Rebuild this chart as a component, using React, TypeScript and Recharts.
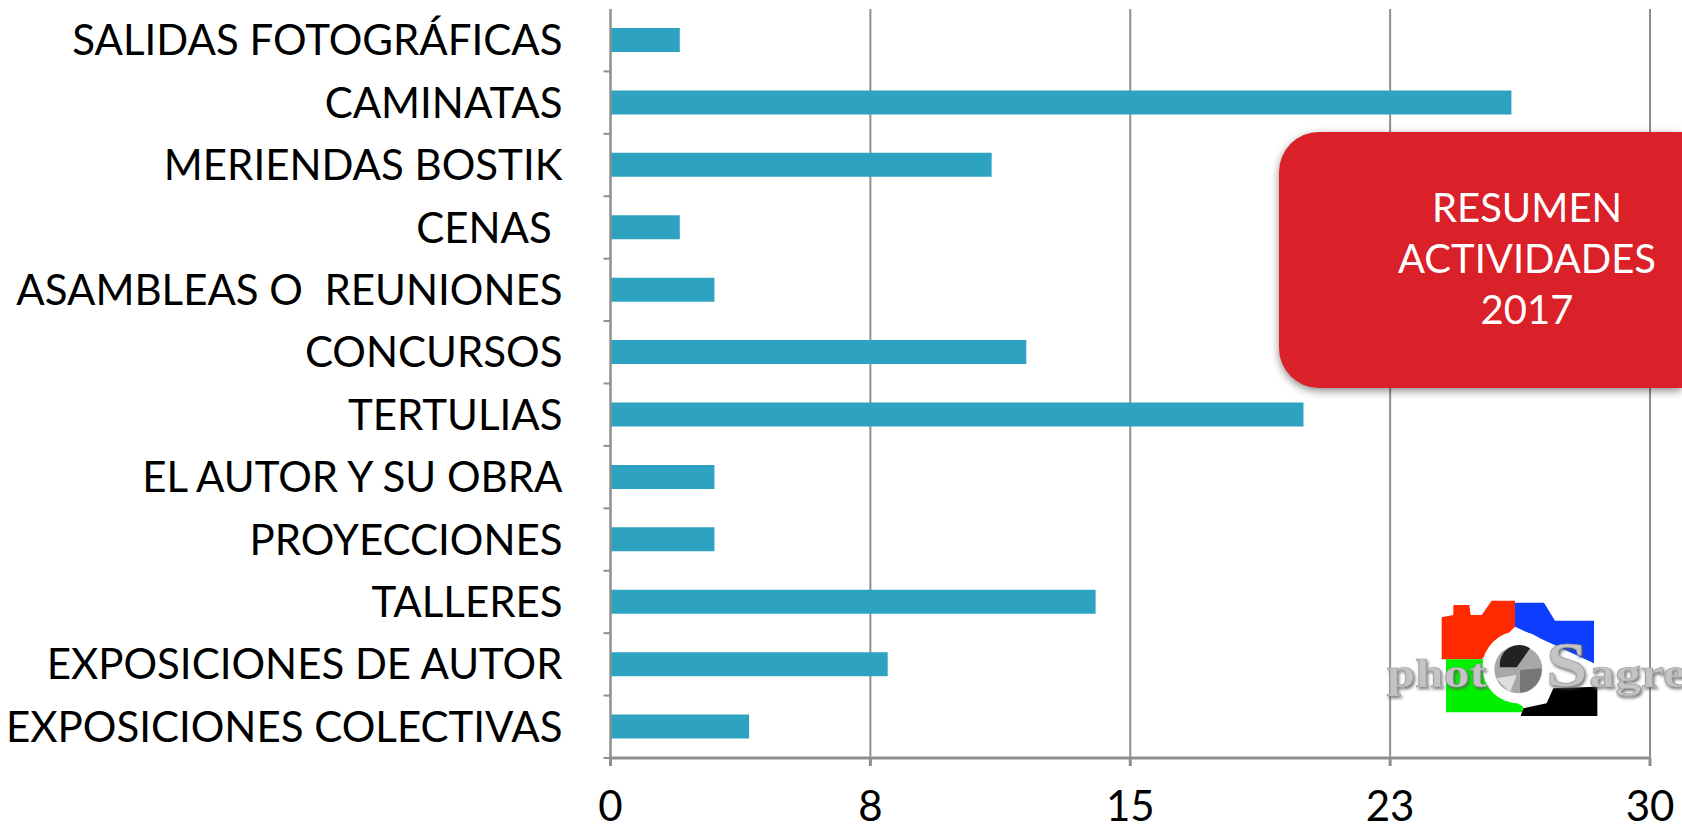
import { BarChart, Bar, XAxis, YAxis, CartesianGrid } from "recharts";

const CATEGORIES = [
  "SALIDAS FOTOGRÁFICAS",
  "CAMINATAS",
  "MERIENDAS BOSTIK",
  "CENAS ",
  "ASAMBLEAS O  REUNIONES",
  "CONCURSOS",
  "TERTULIAS",
  "EL AUTOR Y SU OBRA",
  "PROYECCIONES",
  "TALLERES",
  "EXPOSICIONES DE AUTOR",
  "EXPOSICIONES COLECTIVAS",
];
const VALUES = [2, 26, 11, 2, 3, 12, 20, 3, 3, 14, 8, 4];
const X_TICKS = [0, 7.5, 15, 22.5, 30];
const TITLE_LINES = ["RESUMEN", "ACTIVIDADES", "2017"];

const DATA = CATEGORIES.map((name, i) => ({ name, value: VALUES[i] }));

const FONT = "Lato, sans-serif";
const AXIS_GREY = "#8f8f8f";
const BAND = 62.4;

function CategoryTick({ x, y, payload }: any) {
  return (
    <g>
      <line x1={x + 41} x2={x + 48} y1={y + BAND / 2} y2={y + BAND / 2} stroke={AXIS_GREY} strokeWidth={2} />
      <text
        x={x}
        y={y}
        dy="0.36em"
        textAnchor="end"
        fontFamily={FONT}
        fontSize={42}
        fill="#000"
        style={{ whiteSpace: "pre" }}
      >
        {payload.value}
      </text>
    </g>
  );
}

function TitleBox() {
  return (
    <div
      style={{
        position: "absolute",
        left: 1279,
        top: 132,
        width: 403,
        height: 256,
        background: "#da2029",
        borderRadius: "40px 0 0 40px",
        boxShadow: "0 3px 8px rgba(0,0,0,0.45)",
      }}
    >
      {TITLE_LINES.map((line, i) => (
        <div
          key={line}
          style={{
            position: "absolute",
            left: 148,
            width: 200,
            top: 50 + i * 51,
            whiteSpace: "nowrap",
            lineHeight: "51px",
            fontFamily: FONT,
            fontSize: 40,
            color: "#fff",
            display: "flex",
            justifyContent: "center",
          }}
        >
          {line}
        </div>
      ))}
    </div>
  );
}

function Logo() {
  return (
    <svg
      width={342}
      height={251}
      viewBox="0 0 1026 753"
      style={{ position: "absolute", left: 1340, top: 580 }}
    >
      <defs>
        <filter id="logoBlur">
          <feGaussianBlur stdDeviation="2" />
        </filter>
        <filter id="logoShadow" x="-10%" y="-20%" width="120%" height="140%">
          <feDropShadow dx="4" dy="6" stdDeviation="4" floodColor="#555" floodOpacity="0.8" />
        </filter>
      </defs>
      <g filter="url(#logoBlur)">
        <polygon
          fill="#ff2a00"
          points="305,112 340,105 340,75 388,75 392,105 425,105 455,62 525,62 525,140 425,238 305,238"
        />
        <polygon fill="#0f3cff" points="525,68 612,68 645,122 762,122 762,250 525,140" />
        <polygon fill="#00f000" points="318,238 430,238 450,320 550,380 545,397 318,397" />
        <polygon fill="#000" points="640,325 772,320 772,408 542,408 550,385 620,370" />
        <circle cx={535} cy={262} r={108} fill="#fff" />
        <circle cx={535} cy={268} r={72} fill="#a8a8a8" />
        <path d="M480 262 A58 58 0 0 1 570 205 L530 262 Z" fill="#222" />
        <path d="M540 270 L604 265 A68 68 0 0 1 540 338 Z" fill="#777" />
        <path d="M468 295 L530 285 L510 338 Z" fill="#ddd" />
      </g>
      <g
        fontFamily="'Liberation Serif', serif"
        fontWeight="bold"
        fill="#c4c4c4"
        stroke="#9a9a9a"
        strokeWidth={2}
        filter="url(#logoShadow)"
      >
        <text x={140} y={322} fontSize={118} textLength={300} lengthAdjust="spacingAndGlyphs">
          phot
        </text>
        <text x={618} y={318} fontSize={190} textLength={125} lengthAdjust="spacingAndGlyphs">
          S
        </text>
        <text x={748} y={322} fontSize={118} textLength={290} lengthAdjust="spacingAndGlyphs">
          agre
        </text>
      </g>
    </svg>
  );
}

export default function App() {
  return (
    <div style={{ position: "absolute", left: 0, top: 0, width: 1682, height: 831, background: "#fff", overflow: "hidden" }}>
      <BarChart
        width={1682}
        height={831}
        data={DATA}
        layout="vertical"
        margin={{ top: 9, right: 32, bottom: 0, left: 0 }}
      >
        <CartesianGrid horizontal={false} stroke={AXIS_GREY} strokeWidth={2} />
        <XAxis
          type="number"
          domain={[0, 30]}
          ticks={X_TICKS}
          interval={0}
          tickFormatter={(v: number) => String(Math.round(v))}
          tick={{ fontFamily: FONT, fontSize: 42, fill: "#000" }}
          stroke={AXIS_GREY}
          strokeWidth={3}
          tickSize={8}
          tickMargin={25}
          height={73}
        />
        <YAxis
          type="category"
          dataKey="name"
          width={610.5}
          interval={0}
          stroke={AXIS_GREY}
          strokeWidth={2}
          tickLine={false}
          tickSize={0}
          tickMargin={48}
          tick={<CategoryTick />}
        />
        <Bar dataKey="value" fill="#2ea3c1" barSize={24} isAnimationActive={false} />
      </BarChart>
      <TitleBox />
      <Logo />
    </div>
  );
}
